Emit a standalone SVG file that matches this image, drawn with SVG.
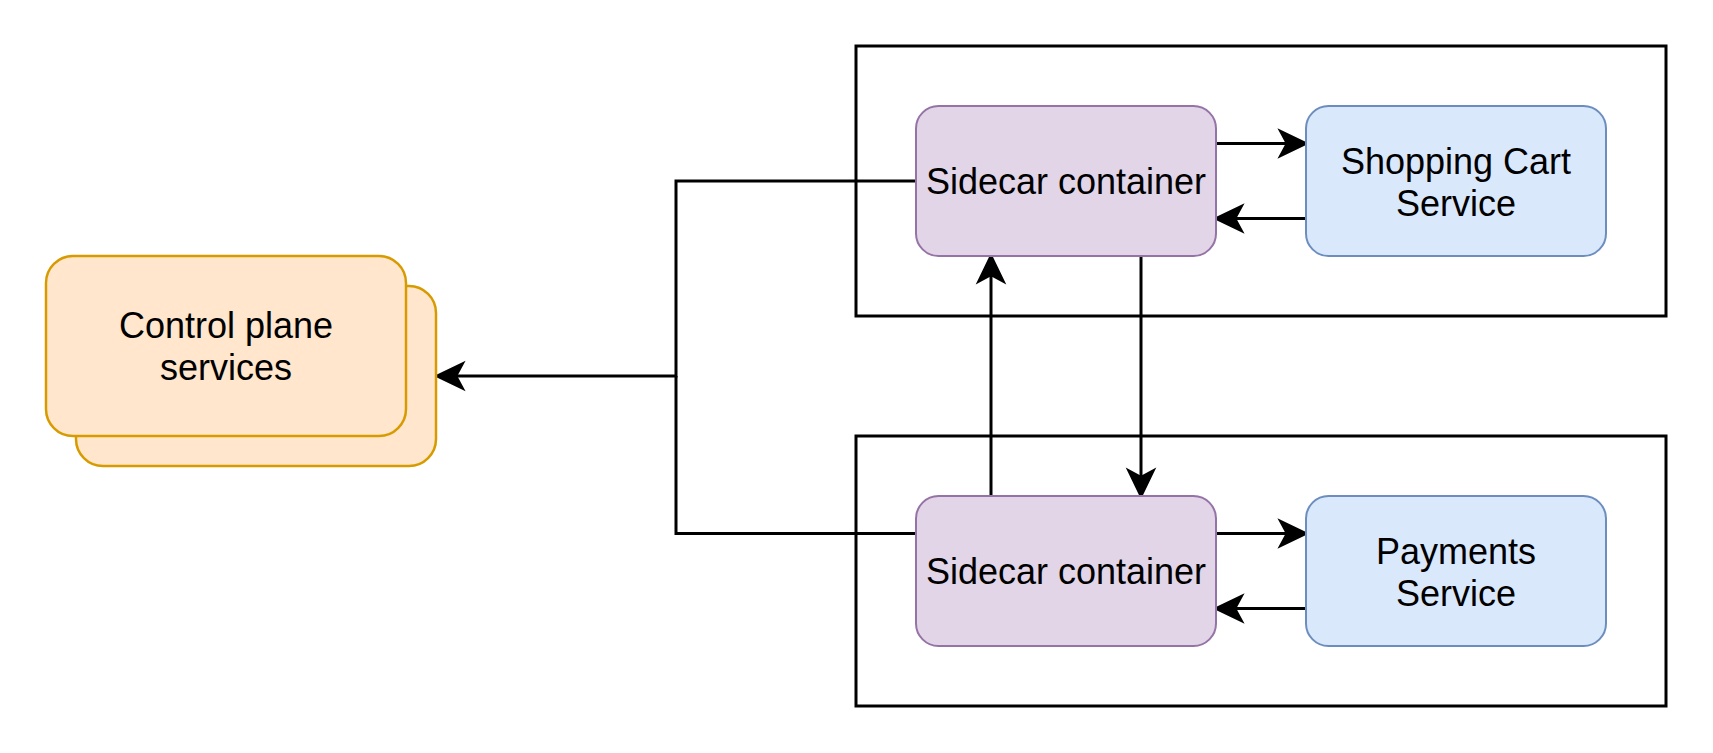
<svg xmlns="http://www.w3.org/2000/svg" width="1713" height="753" viewBox="0 0 1713 753">
<defs>
<style>
.container{fill:none;stroke:#000;stroke-width:3}
.sidecar{fill:#e1d5e7;stroke:#9673a6;stroke-width:2}
.svc{fill:#dae8fc;stroke:#6c8ebf;stroke-width:2}
.cp{fill:#ffe6cc;stroke:#d79b00;stroke-width:2.5}
.edge{fill:none;stroke:#000;stroke-width:3;marker-end:url(#arrow)}
.edge-plain{fill:none;stroke:#000;stroke-width:3}
.label{font-family:"Liberation Sans",Arial,Helvetica,sans-serif;font-size:36px;fill:#000;text-anchor:middle}
</style>
<marker id="arrow" markerUnits="userSpaceOnUse" markerWidth="40" markerHeight="40" viewBox="-12 -16 34 32" refX="0" refY="0" orient="auto" overflow="visible">
<path d="M18,0 L-9,-13 L-2,0 L-9,13 Z" fill="#000"/>
</marker>
</defs>
<rect width="1713" height="753" fill="#fff"/>
<g id="pod-shopping">
<rect class="container" x="856" y="46" width="810" height="270"/>
</g>
<g id="pod-payments">
<rect class="container" x="856" y="436" width="810" height="270"/>
</g>
<g id="connectors">
<path class="edge" d="M916,181 H676 V376 H455"/>
<path class="edge-plain" d="M916,533.5 H676 V376"/>
<path class="edge" d="M1216,143.5 H1288"/>
<path class="edge" d="M1306,218.5 H1234"/>
<path class="edge" d="M1216,533.5 H1288"/>
<path class="edge" d="M1306,608.5 H1234"/>
<path class="edge" d="M991,496 V274"/>
<path class="edge" d="M1141,256 V478"/>
</g>
<g id="control-plane">
<rect class="cp" x="76" y="286" width="360" height="180" rx="27" ry="27"/>
<rect class="cp" x="46" y="256" width="360" height="180" rx="27" ry="27"/>
<text class="label" x="226" y="338">Control plane</text>
<text class="label" x="226" y="380">services</text>
</g>
<g id="sidecar-top">
<rect class="sidecar" x="916" y="106" width="300" height="150" rx="22.5" ry="22.5"/>
<text class="label" x="1066" y="194">Sidecar container</text>
</g>
<g id="shopping-cart">
<rect class="svc" x="1306" y="106" width="300" height="150" rx="22.5" ry="22.5"/>
<text class="label" x="1456" y="174">Shopping Cart</text>
<text class="label" x="1456" y="216">Service</text>
</g>
<g id="sidecar-bottom">
<rect class="sidecar" x="916" y="496" width="300" height="150" rx="22.5" ry="22.5"/>
<text class="label" x="1066" y="584">Sidecar container</text>
</g>
<g id="payments">
<rect class="svc" x="1306" y="496" width="300" height="150" rx="22.5" ry="22.5"/>
<text class="label" x="1456" y="564">Payments</text>
<text class="label" x="1456" y="606">Service</text>
</g>
</svg>
